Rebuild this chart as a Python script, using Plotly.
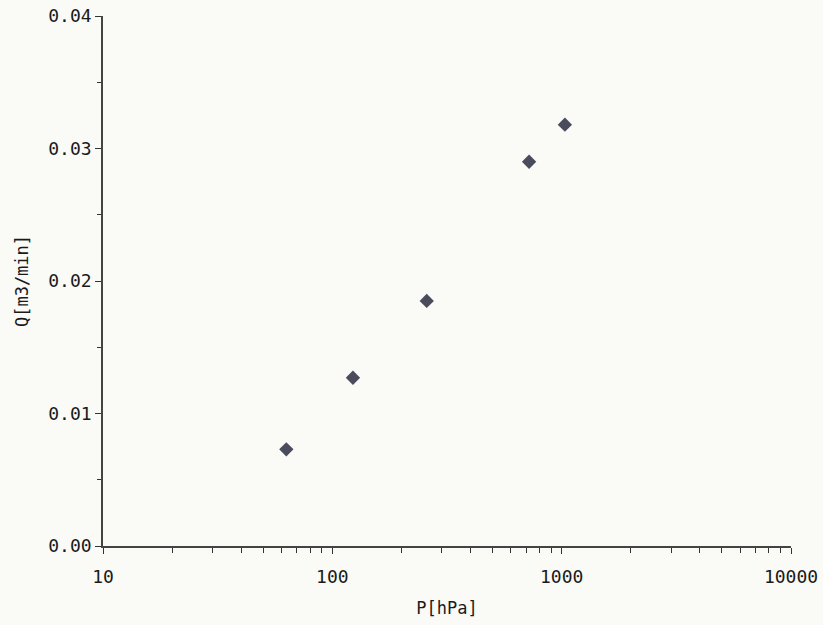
import plotly.graph_objects as go

pressure_hpa = [63, 123, 258, 721, 1033]
flow_m3min = [0.0073, 0.0127, 0.0185, 0.0290, 0.0318]
x_tick_vals = [10, 100, 1000, 10000]
x_tick_text = ["10", "100", "1000", "10000"]
y_tick_vals = [0.00, 0.01, 0.02, 0.03, 0.04]
y_tick_text = ["0.00", "0.01", "0.02", "0.03", "0.04"]

FONT = "DejaVu Sans Mono"
fig = go.Figure()
fig.add_trace(go.Scatter(
    x=pressure_hpa, y=flow_m3min, mode="markers",
    marker=dict(symbol="diamond", size=11, color="#4a4b5c",
                line=dict(width=0)),
    showlegend=False,
))
fig.update_layout(
    width=823, height=625,
    margin=dict(l=103, r=32, t=16, b=79),
    paper_bgcolor="#fafaf7", plot_bgcolor="#fafaf7",
    font=dict(family=FONT, color="#1a1a1a"),
)
fig.update_xaxes(
    type="log", range=[1, 4], automargin=False,
    tickvals=x_tick_vals, ticktext=x_tick_text,
    ticks="outside", ticklen=6, tickwidth=1, tickcolor="#333",
    minor=dict(ticks="outside", ticklen=5, tickcolor="#333", dtick="D1", showgrid=False),
    showline=True, linecolor="#444", linewidth=1.5,
    showgrid=False, zeroline=False,
    tickfont=dict(size=18, family=FONT),
    ticklabelstandoff=8,
    title=dict(text="P[hPa]", font=dict(size=17, family=FONT), standoff=16),
)
fig.update_yaxes(
    range=[0, 0.04], automargin=False,
    tickvals=y_tick_vals, ticktext=y_tick_text,
    ticks="outside", ticklen=6, tickwidth=1, tickcolor="#333",
    minor=dict(ticks="outside", ticklen=4, tickcolor="#333", dtick=0.005, showgrid=False),
    showline=True, linecolor="#444", linewidth=1.5,
    showgrid=False, zeroline=False,
    tickfont=dict(size=18, family=FONT),
    title=dict(text="Q[m3/min]", font=dict(size=17, family=FONT), standoff=15),
)
fig.write_html("out.html",
               config={"displayModeBar": False},
               post_script="document.body.style.margin='0';document.body.style.background='#fafaf7';")
